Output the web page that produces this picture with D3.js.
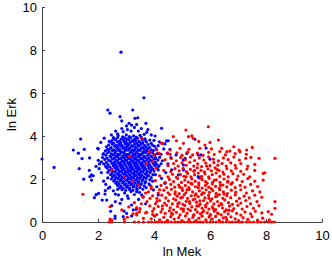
<!DOCTYPE html>
<html>
<head>
<meta charset="utf-8">
<title>ln Mek vs ln Erk</title>
<style>
  body { margin: 0; background: #fff; }
  svg text { font-family: "Liberation Sans", Arial, Helvetica, sans-serif; fill: #000; }
</style>
</head>
<body>
<script src="https://cdn.jsdelivr.net/npm/d3@7"></script>
<script>
// tick labels
var xTicks = [0, 2, 4, 6, 8, 10];
var yTicks = [0, 2, 4, 6, 8, 10];

// blue population: [ln Mek, ln Erk]
var bluePts = [
  [2.82,7.9],[3.64,5.78],[2.35,5.21],[2.43,5.06],[3.24,5.21],[2.79,4.9],[2.85,4.7],[3.32,4.82],[3.42,4.85],
  [3.11,4.59],[3.02,4.47],[3.2,4.51],[3.38,4.54],[2.63,4.23],[2.9,4.2],[3.18,4.23],[3.44,4.23],[3.74,4.17],
  [3.65,4.08],[2.55,3.92],[1.99,3.43],
  [0.0,2.93],[0.43,2.54],[1.38,3.86],[1.12,3.35],[1.3,3.2],[1.51,3.38],[1.43,2.95],[1.7,2.98],[2.01,3.4],
  [2.01,2.87],[1.93,2.59],[1.33,2.48],[1.69,2.4],[1.77,2.19],[1.71,2.11],[1.83,2.15],[1.49,1.99],[1.77,1.95],
  [2.04,2.48],[2.02,1.33],[1.93,1.27],[1.87,1.13],[2.26,1.46],[2.15,1.02],
  [2.49,0.76],[2.45,0.5],[2.61,0.28],[2.93,0.51],[3.02,0.4],[3.2,0.28],[3.37,0.59],[2.31,1.02],[2.73,1.26],
  [2.79,0.87],[3.08,1.1],[3.2,0.79],[3.26,0.56],[2.61,0.17],[2.9,0.25],[3.38,1.41],[3.56,1.26],[2.37,1.57],
  [3.71,4.59],[4.27,4.36],[4.04,4.0],[4.51,3.78],[5.46,3.85],[4.39,3.63],[4.57,3.38],[4.79,3.12],[5.17,3.19],
  [5.58,3.12],[5.05,2.88],[6.0,2.92],[4.63,2.42],[5.05,2.42],[5.58,2.11],[4.15,2.42],[4.27,2.03],[3.98,1.49],
  [4.15,1.26],[4.19,3.73],[4.45,3.77],[5.11,2.96],[5.05,2.65],[4.87,2.19],[4.39,1.8],[4.1,1.64],[5.86,3.44],
  [5.68,3.12],[5.61,2.05],
  [2.1,3.7],[2.18,3.15],[2.05,2.7],[2.12,2.3],[2.2,1.9],[2.28,1.75],[2.35,2.05],[2.42,1.62],[2.55,1.45],
  [2.62,1.3],[2.7,1.52],[2.95,1.35],[3.05,1.22],[3.18,1.42],[3.3,1.28],[3.48,1.38],[3.6,1.52],[3.72,1.6],
  [3.85,1.72],[3.95,1.9],[4.05,2.2],[4.18,2.6],[4.3,2.85],[4.25,3.15],[4.35,3.4],[4.15,3.55],[4.0,3.8],
  [3.9,4.05],[3.78,4.3],[3.55,4.35],[3.3,4.4],[3.05,4.3],[2.85,4.35],[2.7,4.1],[2.48,4.05],[2.4,3.75],
  [2.22,3.9],[2.3,2.55],[2.62,0.95],[2.85,1.05],[3.45,1.05],[3.7,0.85],[2.25,1.3],[4.42,2.3],[4.5,2.7],
  [4.6,3.0],[4.05,2.95],[4.48,3.2],
  // core
  [2.72,4.02],[2.88,3.96],[3.01,4.05],[3.12,3.97],[3.27,4.01],[3.36,3.95],[3.5,4.03],
  [2.58,3.88],[2.7,3.93],[2.83,3.86],[2.95,3.91],[3.05,3.87],[3.17,3.92],[3.3,3.85],[3.41,3.9],[3.55,3.94],[3.68,3.87],
  [2.5,3.79],[2.63,3.83],[2.77,3.76],[2.9,3.81],[2.99,3.77],[3.1,3.82],[3.22,3.78],[3.34,3.8],[3.46,3.75],[3.58,3.83],[3.7,3.78],[3.85,3.81],
  [2.45,3.71],[2.56,3.67],[2.69,3.73],[2.81,3.68],[2.93,3.72],[3.04,3.66],[3.15,3.7],[3.26,3.74],[3.38,3.67],[3.49,3.71],[3.6,3.69],[3.73,3.72],[3.9,3.66],
  [2.38,3.58],[2.52,3.62],[2.64,3.57],[2.75,3.61],[2.86,3.56],[2.98,3.63],[3.09,3.59],[3.2,3.55],[3.31,3.62],[3.43,3.58],[3.54,3.61],[3.66,3.56],[3.79,3.6],[3.95,3.57],
  [2.3,3.5],[2.47,3.46],[2.6,3.52],[2.71,3.48],[2.82,3.53],[2.93,3.47],[3.03,3.51],[3.14,3.45],[3.25,3.52],[3.36,3.48],[3.47,3.53],[3.59,3.46],[3.71,3.5],[3.84,3.47],[4.02,3.52],
  [2.34,3.38],[2.44,3.42],[2.56,3.36],[2.67,3.41],[2.78,3.37],[2.89,3.43],[3.0,3.38],[3.11,3.42],[3.22,3.36],[3.33,3.4],[3.44,3.37],[3.55,3.43],[3.66,3.38],[3.78,3.41],[3.9,3.36],[4.08,3.4],
  [2.26,3.31],[2.4,3.27],[2.52,3.32],[2.63,3.28],[2.74,3.33],[2.85,3.26],[2.96,3.3],[3.07,3.34],[3.18,3.27],[3.29,3.31],[3.4,3.28],[3.51,3.33],[3.62,3.26],[3.74,3.3],[3.86,3.27],[3.98,3.32],
  [2.2,3.18],[2.35,3.22],[2.48,3.17],[2.6,3.21],[2.71,3.16],[2.82,3.23],[2.93,3.19],[3.04,3.15],[3.15,3.22],[3.26,3.18],[3.37,3.21],[3.48,3.16],[3.59,3.2],[3.7,3.23],[3.82,3.17],[3.95,3.21],[4.12,3.18],
  [2.28,3.11],[2.43,3.07],[2.55,3.12],[2.66,3.08],[2.77,3.13],[2.88,3.06],[2.99,3.1],[3.1,3.13],[3.21,3.07],[3.32,3.11],[3.43,3.08],[3.54,3.12],[3.65,3.06],[3.77,3.1],[3.89,3.07],[4.03,3.12],
  [2.16,3.0],[2.32,2.97],[2.46,3.02],[2.59,2.98],[2.7,3.03],[2.81,2.96],[2.92,3.0],[3.03,3.04],[3.14,2.97],[3.25,3.01],[3.36,2.98],[3.47,3.03],[3.58,2.96],[3.69,3.0],[3.81,2.97],[3.93,3.02],[4.06,2.98],[4.2,3.01],
  [2.24,2.91],[2.39,2.87],[2.52,2.92],[2.64,2.88],[2.75,2.93],[2.86,2.86],[2.97,2.9],[3.08,2.94],[3.19,2.87],[3.3,2.91],[3.41,2.88],[3.52,2.93],[3.63,2.86],[3.75,2.9],[3.87,2.87],[4.0,2.92],[4.14,2.88],
  [2.12,2.8],[2.3,2.77],[2.45,2.82],[2.58,2.78],[2.69,2.83],[2.8,2.76],[2.91,2.8],[3.02,2.84],[3.13,2.77],[3.24,2.81],[3.35,2.78],[3.46,2.83],[3.57,2.76],[3.68,2.8],[3.8,2.77],[3.92,2.82],[4.05,2.78],
  [2.2,2.71],[2.36,2.67],[2.5,2.72],[2.62,2.68],[2.73,2.73],[2.84,2.66],[2.95,2.7],[3.06,2.74],[3.17,2.67],[3.28,2.71],[3.39,2.68],[3.5,2.73],[3.61,2.66],[3.72,2.7],[3.84,2.67],[3.97,2.72],[4.1,2.68],[4.25,2.71],
  [2.27,2.6],[2.42,2.57],[2.55,2.62],[2.67,2.58],[2.78,2.63],[2.89,2.56],[3.0,2.6],[3.11,2.64],[3.22,2.57],[3.33,2.61],[3.44,2.58],[3.55,2.63],[3.66,2.56],[3.78,2.6],[3.9,2.57],[4.03,2.62],
  [2.33,2.51],[2.48,2.47],[2.6,2.52],[2.71,2.48],[2.82,2.53],[2.93,2.46],[3.04,2.5],[3.15,2.54],[3.26,2.47],[3.37,2.51],[3.48,2.48],[3.59,2.53],[3.7,2.46],[3.82,2.5],[3.95,2.47],[4.12,2.52],
  [2.4,2.4],[2.53,2.37],[2.65,2.42],[2.76,2.38],[2.87,2.43],[2.98,2.36],[3.09,2.4],[3.2,2.44],[3.31,2.37],[3.42,2.41],[3.53,2.38],[3.64,2.43],[3.76,2.36],[3.88,2.4],[4.0,2.37],
  [2.35,2.31],[2.5,2.27],[2.62,2.32],[2.73,2.28],[2.84,2.33],[2.95,2.26],[3.06,2.3],[3.17,2.34],[3.28,2.27],[3.39,2.31],[3.5,2.28],[3.61,2.33],[3.73,2.26],[3.86,2.3],
  [2.45,2.2],[2.58,2.17],[2.69,2.22],[2.8,2.18],[2.91,2.23],[3.02,2.16],[3.13,2.2],[3.24,2.24],[3.35,2.17],[3.46,2.21],[3.57,2.18],[3.69,2.23],[3.81,2.16],[3.96,2.2],
  [2.52,2.11],[2.64,2.07],[2.75,2.12],[2.86,2.08],[2.97,2.13],[3.08,2.06],[3.19,2.1],[3.3,2.14],[3.41,2.07],[3.52,2.11],[3.64,2.08],[3.76,2.13],[3.9,2.06],
  [2.48,2.0],[2.6,1.97],[2.72,2.02],[2.83,1.98],[2.94,2.03],[3.05,1.96],[3.16,2.0],[3.27,2.04],[3.38,1.97],[3.49,2.01],[3.6,1.98],[3.72,2.03],[3.85,1.96],
  [2.57,1.9],[2.69,1.87],[2.8,1.92],[2.91,1.88],[3.02,1.93],[3.13,1.86],[3.24,1.9],[3.35,1.94],[3.46,1.87],[3.58,1.91],[3.7,1.88],
  [2.64,1.8],[2.76,1.77],[2.88,1.82],[2.99,1.78],[3.1,1.83],[3.21,1.76],[3.32,1.8],[3.43,1.84],[3.55,1.77],[3.68,1.81],[3.82,1.78],
  [2.7,1.7],[2.83,1.67],[2.95,1.72],[3.06,1.68],[3.17,1.73],[3.28,1.66],[3.4,1.7],[3.52,1.74],[3.65,1.67],
  [2.78,1.6],[2.9,1.57],[3.02,1.62],[3.14,1.58],[3.26,1.63],[3.38,1.56],[3.5,1.6],
  [2.86,1.5],[2.99,1.47],[3.12,1.52],[3.25,1.48],[3.4,1.51]
];

// red population: [ln Mek, ln Erk]
var redPts = [
  [3.56,3.89],[3.12,3.04],[3.83,3.27],[4.1,3.35],[4.31,3.66],[4.19,3.19],[4.48,3.19],[3.95,2.8],[3.74,2.73],
  [4.07,2.5],[2.49,2.42],[2.94,2.11],[3.23,1.91],[3.44,1.72],[3.62,1.18],[1.46,1.29],[2.43,0.71],[2.85,0.56],
  [3.38,0.67],[3.38,0.33],[3.62,0.17],[3.86,1.1],[3.74,0.45],[2.49,0.09],[2.43,0.13],[2.94,0.12],[3.38,0.4],
  [3.48,0.48],[4.0,3.12],[4.27,3.66],[3.55,0.85],[3.95,0.35],[4.1,0.95],[3.9,1.55],[4.2,1.5],[3.7,1.35],[4.3,0.75],
  // y = 0 row
  [2.4,0],[2.49,0],[2.94,0],[3.3,0],[3.45,0],[3.62,0],[3.8,0],[3.92,0],[4.05,0],[4.15,0],[4.28,0],[4.4,0],
  [4.5,0],[4.62,0],[4.75,0],[4.85,0],[4.95,0],[5.08,0],[5.2,0],[5.3,0],[5.42,0],[5.55,0],[5.65,0],[5.75,0],
  [5.88,0],[6.0,0],[6.1,0],[6.22,0],[6.35,0],[6.45,0],[6.58,0],[6.7,0],[6.8,0],[6.92,0],[7.05,0],[7.15,0],
  [7.3,0],[7.42,0],[7.55,0],[7.7,0],[7.82,0],[7.95,0],[8.08,0],[8.2,0],[8.3,0],
  // bands
  [3.05,0.22],[3.9,0.15],[4.02,0.27],[4.2,0.1],[4.35,0.22],[4.48,0.08],[4.6,0.25],[4.72,0.14],[4.88,0.2],
  [5.0,0.07],[5.12,0.28],[5.25,0.12],[5.38,0.21],[5.5,0.06],[5.6,0.18],[5.72,0.27],[5.85,0.1],[5.97,0.23],
  [6.08,0.14],[6.2,0.26],[6.33,0.08],[6.47,0.19],[6.6,0.11],[6.75,0.24],[6.9,0.15],[7.02,0.06],[7.18,0.2],
  [7.35,0.12],[7.5,0.25],[7.7,0.09],[7.88,0.18],[8.12,0.1],[8.2,0.36],[8.08,0.48],
  [3.25,0.38],[3.7,0.42],[3.95,0.5],[4.1,0.35],[4.25,0.47],[4.4,0.4],[4.55,0.52],[4.66,0.36],[4.8,0.45],
  [4.93,0.33],[5.05,0.5],[5.18,0.4],[5.3,0.53],[5.43,0.34],[5.55,0.46],[5.66,0.38],[5.78,0.52],[5.9,0.42],
  [6.02,0.35],[6.15,0.5],[6.27,0.41],[6.4,0.33],[6.52,0.48],[6.65,0.38],[6.8,0.52],[6.95,0.4],[7.1,0.32],
  [7.25,0.47],[7.45,0.38],[7.62,0.5],[7.85,0.42],
  [3.1,0.7],[3.5,0.62],[3.85,0.75],[4.0,0.62],[4.15,0.72],[4.3,0.6],[4.45,0.78],[4.58,0.66],[4.7,0.57],
  [4.84,0.72],[4.97,0.62],[5.1,0.77],[5.22,0.6],[5.35,0.7],[5.48,0.58],[5.6,0.75],[5.72,0.64],[5.84,0.78],
  [5.96,0.6],[6.08,0.7],[6.2,0.58],[6.32,0.76],[6.45,0.65],[6.58,0.56],[6.7,0.74],[6.85,0.62],[7.0,0.78],
  [7.15,0.6],[7.32,0.72],[7.55,0.64],[7.75,0.76],[8.32,0.64],
  [3.3,0.9],[3.75,0.95],[4.05,0.85],[4.2,1.0],[4.38,0.88],[4.52,0.98],[4.65,0.84],[4.78,1.02],[4.9,0.9],
  [5.03,0.82],[5.15,0.96],[5.28,0.86],[5.4,1.03],[5.52,0.92],[5.65,0.83],[5.77,1.0],[5.9,0.88],[6.02,0.98],
  [6.14,0.84],[6.27,0.95],[6.4,0.86],[6.53,1.02],[6.66,0.9],[6.8,0.82],[6.95,0.97],[7.1,0.88],[7.28,1.0],
  [7.45,0.85],[7.68,0.95],[8.32,0.95],
  [3.6,1.15],[3.95,1.22],[4.1,1.1],[4.28,1.25],[4.42,1.12],[4.56,1.28],[4.7,1.08],[4.83,1.2],[4.96,1.12],
  [5.08,1.27],[5.2,1.1],[5.33,1.22],[5.46,1.07],[5.58,1.18],[5.7,1.28],[5.82,1.12],[5.95,1.24],[6.07,1.08],
  [6.2,1.18],[6.33,1.28],[6.46,1.1],[6.6,1.22],[6.74,1.13],[6.9,1.26],[7.05,1.1],[7.22,1.2],[7.4,1.12],
  [7.6,1.25],[7.85,1.15],
  [3.8,1.4],[4.15,1.35],[4.35,1.48],[4.5,1.36],[4.62,1.52],[4.76,1.4],[4.9,1.32],[5.02,1.47],[5.14,1.36],
  [5.26,1.52],[5.38,1.4],[5.5,1.31],[5.62,1.45],[5.74,1.36],[5.86,1.5],[5.98,1.38],[6.1,1.46],[6.22,1.33],
  [6.35,1.5],[6.48,1.4],[6.62,1.32],[6.76,1.48],[6.92,1.38],[7.1,1.5],[7.3,1.35],[7.52,1.45],[7.78,1.4],
  [3.9,1.65],[4.25,1.7],[4.45,1.6],[4.6,1.75],[4.74,1.62],[4.88,1.72],[5.0,1.58],[5.12,1.7],[5.24,1.6],
  [5.36,1.76],[5.48,1.64],[5.6,1.72],[5.72,1.58],[5.84,1.7],[5.96,1.62],[6.08,1.77],[6.2,1.66],[6.33,1.57],
  [6.46,1.72],[6.6,1.63],[6.75,1.76],[6.9,1.6],[7.08,1.7],[7.25,1.62],[7.45,1.75],[7.7,1.65],
  [4.05,1.92],[4.4,1.85],[4.55,1.98],[4.7,1.88],[4.85,2.02],[4.98,1.84],[5.1,1.95],[5.22,1.86],[5.35,2.0],
  [5.47,1.9],[5.6,1.82],[5.72,1.97],[5.84,1.88],[5.97,2.03],[6.1,1.86],[6.23,1.96],[6.36,1.84],[6.5,2.0],
  [6.64,1.9],[6.8,1.83],[6.96,1.98],[7.15,1.88],[7.35,2.02],[7.6,1.9],[7.9,1.95],
  [4.2,2.15],[4.5,2.1],[4.66,2.22],[4.8,2.08],[4.94,2.2],[5.07,2.12],[5.2,2.26],[5.32,2.1],[5.45,2.2],
  [5.58,2.28],[5.7,2.12],[5.82,2.24],[5.95,2.1],[6.08,2.2],[6.22,2.28],[6.35,2.12],[6.5,2.22],[6.65,2.1],
  [6.82,2.25],[7.0,2.14],[7.2,2.22],[7.42,2.1],[7.9,2.26],[7.96,2.29],
  [4.35,2.4],[4.6,2.35],[4.75,2.48],[4.9,2.38],[5.04,2.5],[5.16,2.34],[5.3,2.45],[5.42,2.36],[5.55,2.52],
  [5.68,2.4],[5.8,2.33],[5.93,2.47],[6.05,2.38],[6.18,2.52],[6.32,2.4],[6.46,2.32],[6.6,2.48],[6.76,2.38],
  [6.93,2.5],[7.1,2.36],[7.32,2.46],[7.6,2.4],
  [4.5,2.62],[4.7,2.72],[4.86,2.6],[5.0,2.75],[5.15,2.64],[5.28,2.78],[5.42,2.6],[5.56,2.7],[5.7,2.58],
  [5.85,2.74],[6.0,2.62],[6.14,2.76],[6.28,2.64],[6.43,2.72],[6.58,2.6],[6.74,2.75],[6.9,2.63],[7.1,2.72],
  [7.35,2.6],[7.6,2.68],
  [4.4,2.9],[4.62,2.95],[4.8,2.85],[4.95,3.0],[5.12,2.9],[5.3,3.02],[5.45,2.86],[5.62,2.98],[5.78,2.88],
  [5.95,3.03],[6.12,2.92],[6.3,2.84],[6.48,2.98],[6.65,2.9],[6.85,3.02],[7.05,2.88],[7.28,2.96],[7.46,3.01],
  [7.75,2.96],[8.32,2.96],
  [4.58,3.15],[4.82,3.22],[5.0,3.1],[5.2,3.25],[5.38,3.12],[5.55,3.2],[5.75,3.1],[5.95,3.24],[6.15,3.14],
  [6.35,3.28],[6.55,3.12],[6.71,3.3],[6.9,3.18],[7.07,3.27],[7.3,3.15],
  [4.57,3.35],[4.93,3.43],[5.25,3.38],[5.64,3.43],[5.82,3.58],[6.05,3.4],[6.42,3.43],[6.6,3.27],[7.04,3.35],
  [7.31,3.35],[7.51,3.47],[6.85,3.5],
  [5.05,3.66],[4.69,3.97],[5.23,3.97],[5.35,4.01],[5.4,3.89],[5.14,4.28],[5.94,4.43],[6.3,3.81],[5.6,3.75],
  [6.0,3.7],[4.8,3.78],
  // denser middle
  [5.05,0.6],[5.18,1.5],[5.27,0.95],[5.33,1.8],[5.41,0.3],[5.47,1.25],[5.53,0.75],[5.58,1.6],[5.64,0.98],
  [5.68,2.05],[5.73,0.45],[5.79,1.35],[5.85,0.7],[5.9,1.8],[5.96,1.1],[6.0,0.3],[6.05,1.55],[6.11,0.62],
  [6.16,1.95],[6.24,1.2],[6.29,0.4],[6.37,1.7],[6.42,0.8],[6.5,1.3],[6.56,0.22],[6.63,1.85],[6.68,0.55],
  [4.92,1.62],[4.85,0.85],[4.75,1.3],[4.63,0.4],[5.15,2.1],[5.45,2.4],[5.88,2.6],[6.25,2.45],[5.02,1.15]
];

var W = 332, H = 259;
var margin = {left: 42, right: 10, top: 7, bottom: 37};

var svg = d3.select('body').append('svg')
  .attr('width', W)
  .attr('height', H);

var x = d3.scaleLinear().domain([0, 10]).range([margin.left, W - margin.right]);
var y = d3.scaleLinear().domain([0, 10]).range([H - margin.bottom, margin.top]);

var xAxis = svg.append('g')
  .attr('transform', 'translate(0,' + (H - margin.bottom) + ')')
  .call(d3.axisBottom(x).tickValues(xTicks).tickSize(-3).tickSizeOuter(0).tickPadding(9));

var yAxis = svg.append('g')
  .attr('transform', 'translate(' + margin.left + ',0)')
  .call(d3.axisLeft(y).tickValues(yTicks).tickSize(-3).tickSizeOuter(0).tickPadding(5));

svg.selectAll('.domain, .tick line').attr('stroke', '#404040');
svg.selectAll('.tick text').style('font-size', '13px').attr('fill', '#000');

svg.append('g').selectAll('circle')
  .data(bluePts)
  .enter()
  .append('circle')
  .attr('cx', function (d) { return x(d[0]); })
  .attr('cy', function (d) { return y(d[1]); })
  .attr('r', 1.6)
  .attr('fill', '#0000ff');

svg.append('g').selectAll('circle')
  .data(redPts)
  .enter()
  .append('circle')
  .attr('cx', function (d) { return x(d[0]); })
  .attr('cy', function (d) { return y(d[1]); })
  .attr('r', 1.6)
  .attr('fill', '#ff0000');

svg.append('text')
  .attr('x', (x(0) + x(10)) / 2)
  .attr('y', 256)
  .attr('text-anchor', 'middle')
  .style('font-size', '13px')
  .text('ln Mek');

svg.append('text')
  .attr('transform', 'translate(16,' + ((y(0) + y(10)) / 2) + ') rotate(-90)')
  .attr('text-anchor', 'middle')
  .style('font-size', '13px')
  .text('ln Erk');
</script>
</body>
</html>
